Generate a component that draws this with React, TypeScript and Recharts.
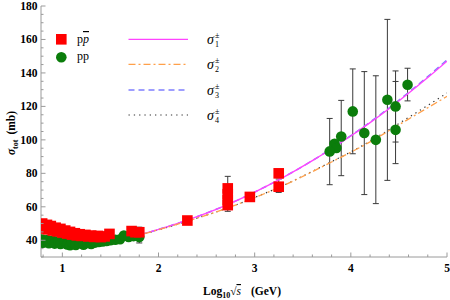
import React from "react";
import { ComposedChart, Scatter, Line, XAxis, YAxis, ErrorBar } from "recharts";

const FONT = '"Liberation Serif", "Times New Roman", serif';
const FRAME = "#9a9a9a";
const RED = "#ff0000";
const GREEN = "#0b7d0b";
const MAGENTA = "#ff44ff";
const ORANGE = "#ffa04a";
const BLUE = "#7f7fff";
const DARK = "#333333";
const BAR = "#3a3a3a";

// axis ticks (x = log10 sqrt(s))
const xTicks = [0.8, 1, 1.2, 1.4, 1.6, 1.8, 2, 2.2, 2.4, 2.6, 2.8, 3, 3.2, 3.4, 3.6, 3.8, 4, 4.2, 4.4, 4.6, 4.8, 5];
const xLabels = [1, 2, 3, 4, 5];
const yTicks = [30, 35, 40, 45, 50, 55, 60, 65, 70, 75, 80, 85, 90, 95, 100, 105, 110, 115, 120, 125, 130, 135, 140, 145, 150, 155, 160, 165, 170, 175, 180];
const yLabels = [40, 60, 80, 100, 120, 140, 160, 180];

// p-pbar data
const ppbarX = [0.79, 0.8, 0.84, 0.85, 0.88, 0.9, 0.93, 0.95, 0.98, 1.0, 1.03, 1.05, 1.08, 1.1, 1.13, 1.15, 1.18, 1.2, 1.24, 1.27, 1.3, 1.33, 1.37, 1.4, 1.44, 1.49, 1.72, 1.76, 2.3, 2.72, 2.72, 2.72, 2.95, 3.25];
const ppbarY = [50.0, 47.0, 49.2, 46.5, 48.5, 45.8, 47.5, 45.3, 46.8, 44.6, 45.8, 44.0, 45.0, 43.4, 44.2, 42.9, 43.6, 42.6, 43.2, 42.3, 42.8, 42.0, 42.6, 41.9, 42.3, 43.8, 45.5, 44.8, 51.8, 71.0, 64.0, 61.0, 65.9, 80.0];
const ppbarErrX = [1.8, 2.72, 3.25];
const ppbarErrY = [44.8, 67.5, 72.0];
const ppbarErrLo = [6.4, 10.2, 3.4];
const ppbarErrHi = [3.0, 10.7, 4.6];

// pp data
const ppX = [0.79, 0.8, 0.84, 0.86, 0.9, 0.92, 0.96, 0.98, 1.02, 1.05, 1.08, 1.1, 1.14, 1.18, 1.22, 1.26, 1.3, 1.34, 1.38, 1.42, 1.46, 1.5, 1.55, 1.6, 1.64, 1.69, 1.74, 1.8, 3.83, 3.85];
const ppY = [40.5, 38.5, 40.2, 38.2, 39.8, 38.0, 39.5, 37.8, 39.2, 37.5, 37.0, 38.8, 37.2, 38.6, 37.3, 38.4, 37.8, 38.6, 39.0, 39.3, 39.6, 40.0, 40.3, 40.6, 42.8, 42.0, 42.5, 42.0, 97.7, 95.1];
const ppErrX = [3.78, 3.9, 4.02, 4.14, 4.26, 4.38, 4.465, 4.465, 4.59];
const ppErrY = [93.1, 102.0, 117.0, 104.1, 100.0, 124.0, 120.0, 106.0, 132.9];
const ppErrLo = [19.9, 23.4, 25.3, 36.8, 38.1, 48.2, 21.3, 20.2, 9.6];
const ppErrHi = [19.7, 21.6, 25.4, 36.7, 38.3, 48.0, 21.2, 28.9, 9.9];

// fitted curves: low-energy branches (shared) and high-energy part
const lowX = [0.778, 0.9, 1.0, 1.1, 1.2, 1.3, 1.4, 1.5, 1.6, 1.7];
const lowPpbar = [48.4, 46.3, 44.8, 43.6, 42.7, 42.1, 41.8, 41.7, 42.0, 42.6];
const lowPp = [39.4, 39.2, 38.9, 38.8, 38.8, 39.0, 39.4, 40.0, 40.8, 41.9];
const highX = [1.8, 2.0, 2.2, 2.4, 2.6, 2.8, 3.0, 3.2, 3.4, 3.6, 3.8, 4.0, 4.2, 4.4, 4.6, 4.8, 5.0];
const sigma1 = [43.3, 46.5, 50.1, 54.1, 58.5, 63.4, 68.8, 74.6, 80.9, 87.6, 94.7, 102.3, 110.3, 118.8, 127.8, 137.2, 147.0];
const sigma2 = [43.3, 46.3, 49.6, 53.2, 56.9, 61.0, 65.5, 70.2, 75.4, 81.0, 86.8, 92.6, 98.8, 105.6, 112.4, 119.2, 126.0];
const sigma3 = [43.3, 46.5, 50.1, 54.1, 58.5, 63.4, 68.8, 74.6, 80.9, 87.6, 94.8, 102.5, 110.6, 119.2, 128.3, 137.8, 147.8];
const sigma4 = [43.3, 46.3, 49.6, 53.2, 56.9, 61.0, 65.6, 70.3, 75.5, 81.2, 87.0, 92.8, 99.2, 106.2, 113.4, 120.6, 128.0];

const pts = (xs: number[], ys: number[]) => xs.map((x, i) => ({ x, y: ys[i] }));
const errPts = (xs: number[], ys: number[], lo: number[], hi: number[]) =>
  xs.map((x, i) => ({ x, y: ys[i], err: [lo[i], hi[i]] }));

const curves = [
  { key: "s1", values: sigma1, color: MAGENTA, dash: undefined, width: 1.3 },
  { key: "s2", values: sigma2, color: ORANGE, dash: "7 3 2 3", width: 1.3 },
  { key: "s3", values: sigma3, color: BLUE, dash: "6 4", width: 1.5 },
  { key: "s4", values: sigma4, color: DARK, dash: "1.3 4", width: 1.2 },
];
// drawing order: dashed curves underneath the solid / dot-dash ones
const drawOrder = [curves[2], curves[3], curves[0], curves[1]];

const Square = (p: any) => <rect x={p.cx - 5.3} y={p.cy - 5.3} width={10.6} height={10.6} fill={RED} />;
const Dot = (p: any) => <circle cx={p.cx} cy={p.cy} r={5.3} fill={GREEN} />;

const tickText = { fontFamily: FONT, fontWeight: 700, fontSize: 11.5, fill: "#000" };

function BottomTick({ x, y, payload }: any) {
  const major = xLabels.includes(payload.value);
  return (
    <g>
      <line x1={x} y1={y} x2={x} y2={y - (major ? 4.5 : 2.5)} stroke={FRAME} />
      {major && (
        <text x={x} y={y + 15} textAnchor="middle" style={tickText}>
          {payload.value}
        </text>
      )}
    </g>
  );
}

function TopTick({ x, y, payload }: any) {
  const major = xLabels.includes(payload.value);
  return <line x1={x} y1={y} x2={x} y2={y + (major ? 4.5 : 2.5)} stroke={FRAME} />;
}

function LeftTick({ x, y, payload }: any) {
  const major = yLabels.includes(payload.value);
  return (
    <g>
      <line x1={x} y1={y} x2={x + (major ? 4.5 : 2.5)} y2={y} stroke={FRAME} />
      {major && (
        <text x={x - 3.5} y={y + 3.8} textAnchor="end" style={tickText}>
          {payload.value}
        </text>
      )}
    </g>
  );
}

function RightTick({ x, y, payload }: any) {
  const major = yLabels.includes(payload.value);
  return <line x1={x} y1={y} x2={x - (major ? 4.5 : 2.5)} y2={y} stroke={FRAME} />;
}

function SigmaLabel({ x, y, n }: { x: number; y: number; n: number }) {
  return (
    <g style={{ fontFamily: FONT }}>
      <text x={x} y={y} fontSize={14} fontStyle="italic">σ</text>
      <text x={x + 8} y={y - 6} fontSize={8}>±</text>
      <text x={x + 8} y={y + 3} fontSize={8}>{n}</text>
    </g>
  );
}

function Overlay() {
  const rows = [39.3, 64.3, 90, 115];
  return (
    <svg width={450} height={300} style={{ position: "absolute", left: 0, top: 0, pointerEvents: "none" }}>
      <rect x={56} y={34} width={10.6} height={10.6} fill={RED} />
      <text x={77} y={43} fontSize={12} style={{ fontFamily: FONT }}>
        p<tspan fontStyle="italic" textDecoration="overline">p</tspan>
      </text>
      <circle cx={61.3} cy={57.3} r={5.3} fill={GREEN} />
      <text x={77} y={60} fontSize={12} style={{ fontFamily: FONT }}>pp</text>
      {curves.map((c, i) => (
        <g key={c.key}>
          <line x1={128.5} x2={188} y1={rows[i]} y2={rows[i]} stroke={c.color} strokeWidth={c.width} strokeDasharray={c.dash} />
          <SigmaLabel x={207} y={rows[i] + 5} n={i + 1} />
        </g>
      ))}
      <text x={203} y={295} style={{ fontFamily: FONT, fontWeight: 700, fontSize: 11.5 }}>
        Log<tspan fontSize={8} dy={3}>10</tspan>
        <tspan dy={-3} fontWeight={400}>√</tspan>
        <tspan fontStyle="italic" fontWeight={400} textDecoration="overline">s</tspan>
        <tspan dx={10}>(GeV)</tspan>
      </text>
      <text transform="translate(15,133) rotate(-90)" textAnchor="middle" style={{ fontFamily: FONT, fontWeight: 700, fontSize: 11.5 }}>
        <tspan fontStyle="italic">σ</tspan>
        <tspan fontSize={8} dy={3}>tot</tspan>
        <tspan dy={-3} dx={5}>(mb)</tspan>
      </text>
    </svg>
  );
}

export default function App() {
  return (
    <div style={{ position: "absolute", left: 0, top: 0, width: 450, height: 300, background: "#fff" }}>
      <ComposedChart width={450} height={300} margin={{ top: 6, right: 3, left: 0, bottom: 0 }}>
        <XAxis
          dataKey="x"
          type="number"
          domain={[0.778, 5]}
          allowDataOverflow
          ticks={xTicks}
          interval={0}
          height={43}
          tickSize={0}
          tickMargin={0}
          tickLine={false}
          axisLine={{ stroke: FRAME }}
          tick={<BottomTick />}
        />
        <XAxis
          xAxisId="top"
          orientation="top"
          type="number"
          domain={[0.778, 5]}
          allowDataOverflow
          ticks={xTicks}
          interval={0}
          height={0}
          tickSize={0}
          tickMargin={0}
          tickLine={false}
          axisLine={{ stroke: FRAME }}
          tick={<TopTick />}
        />
        <YAxis
          type="number"
          domain={[30, 180]}
          allowDataOverflow
          ticks={yTicks}
          interval={0}
          width={41}
          tickSize={0}
          tickMargin={0}
          tickLine={false}
          axisLine={{ stroke: FRAME }}
          tick={<LeftTick />}
        />
        <YAxis
          yAxisId="right"
          orientation="right"
          type="number"
          domain={[30, 180]}
          allowDataOverflow
          ticks={yTicks}
          interval={0}
          width={0}
          tickSize={0}
          tickMargin={0}
          tickLine={false}
          axisLine={{ stroke: FRAME }}
          tick={<RightTick />}
        />
        <Scatter data={pts(ppX, ppY)} dataKey="y" shape={Dot} isAnimationActive={false} />
        <Scatter data={errPts(ppErrX, ppErrY, ppErrLo, ppErrHi)} dataKey="y" shape={Dot} isAnimationActive={false}>
          <ErrorBar dataKey="err" direction="y" width={3} stroke={BAR} strokeWidth={1} isAnimationActive={false} />
        </Scatter>
        <Scatter data={pts(ppbarX, ppbarY)} dataKey="y" shape={Square} isAnimationActive={false} />
        <Scatter data={errPts(ppbarErrX, ppbarErrY, ppbarErrLo, ppbarErrHi)} dataKey="y" shape={Square} isAnimationActive={false}>
          <ErrorBar dataKey="err" direction="y" width={3} stroke={BAR} strokeWidth={1} isAnimationActive={false} />
        </Scatter>
        {drawOrder.map((c) => (
          <Line
            key={c.key + "a"}
            data={[...pts(lowX, lowPpbar), ...pts(highX, c.values)]}
            dataKey="y"
            type="monotone"
            stroke={c.color}
            strokeWidth={c.width}
            strokeDasharray={c.dash}
            dot={false}
            activeDot={false}
            isAnimationActive={false}
          />
        ))}
        {drawOrder.map((c) => (
          <Line
            key={c.key + "b"}
            data={[...pts(lowX, lowPp), { x: highX[0], y: c.values[0] }]}
            dataKey="y"
            type="monotone"
            stroke={c.color}
            strokeWidth={c.width}
            strokeDasharray={c.dash}
            dot={false}
            activeDot={false}
            isAnimationActive={false}
          />
        ))}
      </ComposedChart>
      <Overlay />
    </div>
  );
}
